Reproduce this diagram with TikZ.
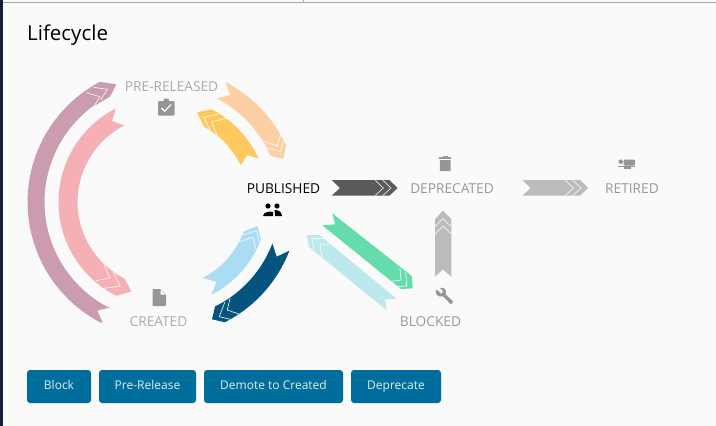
\documentclass[tikz,border=0pt]{standalone}
\usepackage{fontspec}
\setmainfont{Open Sans}
\definecolor{pagebg}{HTML}{FAFAFA}
\definecolor{navy}{HTML}{16203A}
\definecolor{mauve}{HTML}{CB9BB0}
\definecolor{pinkr}{HTML}{F4B0B5}
\definecolor{peach}{HTML}{FCCFA5}
\definecolor{amber}{HTML}{FFC85C}
\definecolor{skyb}{HTML}{AADDF3}
\definecolor{deepb}{HTML}{04547F}
\definecolor{mint}{HTML}{66DBAC}
\definecolor{paleteal}{HTML}{BCEAEC}
\definecolor{darkg}{HTML}{5A5A5A}
\definecolor{lightg}{HTML}{BBBBBB}
\definecolor{btn}{HTML}{006E9C}
\definecolor{iconc}{HTML}{969696}
\tikzset{
  x=1pt,y=-1pt,
  declare function={ax(\r,\t)=163.5+\r*cos(\t);ay(\r,\t)=202+\r*sin(\t);},
  smp/.style={samples=40},
  rib/.style={fill=#1,draw=none},
  chev/.style={draw=white!85!#1,line width=0.7pt,line join=miter},
  lab/.style={font=\fontsize{13.7}{16}\selectfont,text=#1,inner sep=0pt,anchor=base},
  act/.style={fill=btn,rounded corners=3pt,draw=none,minimum height=33pt,inner sep=0pt,text=white!88!btn,font=\fontsize{12}{14}\selectfont,text height=9pt,text depth=2.5pt},
  icon/.style={fill=iconc,draw=none}
}
\begin{document}
\begin{tikzpicture}
\useasboundingbox (0,0) rectangle (716,426);
\fill[pagebg] (0,0) rectangle (716,426);
\fill[black!35] (2.7,2) rectangle (716,3);
\fill[black!35] (303,0) rectangle (304,2);
\fill[navy] (0,0) rectangle (2.7,426);

\node[anchor=base west,inner sep=0pt,font=\fontsize{20.5}{24}\selectfont,text=black] (title) at (27,40) {Lifecycle};

% mauve: created -> pre-released (outer left)
\fill[rib=mauve] (102.7,322.7) -- (97.3,310.7) -- (110.3,307.3)
  -- plot[domain=117:234,smp] ({ax(119,\x)},{ay(119,\x)}) -- (94,106) -- (110,96.7) -- (116.3,84.3) -- (101,82)
  -- plot[domain=242:117.5,smp] ({ax(136,\x)},{ay(136,\x)}) -- cycle;
\draw[chev=mauve] (86,92.7) -- (100,96.7) -- (94,106);
\draw[chev=mauve] (93.3,87.3) -- (107.3,89.3) -- (100.7,100);

% pink: pre-released -> created (inner left)
\fill[rib=pinkr] (115.7,108.7) -- (112,121) -- (124.3,125.7)
  -- plot[domain=243:117,smp] ({ax(86,\x)},{ay(86,\x)}) -- (131.3,291.3) -- (116.7,295.7)
  -- plot[domain=116.5:243,smp] ({ax(105,\x)},{ay(105,\x)}) -- cycle;
\draw[chev=pinkr] (96,280.7) -- (110,278) -- (104,265);
\draw[chev=pinkr] (102,288.7) -- (120,286) -- (113.3,272);

% peach: pre-released -> published (outer)
\fill[rib=peach] (226,82.7) -- (230,95) -- (217.3,98.3)
  -- plot[domain=-62.5:-23.5,smp] ({ax(116.5,\x)},{ay(116.5,\x)}) -- (283.3,159) -- (286,146)
  -- plot[domain=-24.5:-62.3,smp] ({ax(135,\x)},{ay(135,\x)}) -- cycle;
\draw[chev=peach] (262.7,141) -- (277.3,146) -- (280.7,135);
\draw[chev=peach] (265.3,147.3) -- (280,151.7) -- (283.7,140.7);

% amber: published -> pre-released (inner)
\fill[rib=amber] (257.7,158.3) -- (247.3,155) -- (240.7,165)
  -- plot[domain=-25.5:-62,smp] ({ax(85.5,\x)},{ay(85.5,\x)}) -- (197.3,112.3) -- (211.7,109.3)
  -- plot[domain=-62.5:-25,smp] ({ax(104.5,\x)},{ay(104.5,\x)}) -- cycle;
\draw[chev=amber] (219.3,114) -- (204,117.3) -- (210,130);
\draw[chev=amber] (226.7,118.3) -- (211.7,121.7) -- (217.3,136);

% sky: created -> published (inner)
\fill[rib=skyb] (203.3,278.3) -- (216.7,281.7) -- (211.3,295)
  -- plot[domain=62.8:21,smp] ({ax(104.5,\x)},{ay(104.5,\x)}) -- (257.3,226) -- (243.3,231.7)
  -- plot[domain=20.5:62.5,smp] ({ax(85.5,\x)},{ay(85.5,\x)}) -- cycle;
\draw[chev=skyb] (238.7,242) -- (253,237) -- (256,250);
\draw[chev=skyb] (243.3,235) -- (256.5,230.7) -- (259.5,243);

% deep blue: published -> created (outer)
\fill[rib=deepb] (272.3,243.3) -- (276.7,256.7) -- (289.3,250.7)
  -- plot[domain=21:63,smp] ({ax(135,\x)},{ay(135,\x)}) -- (212,319.3) -- (215,306.7)
  -- plot[domain=63.8:21,smp] ({ax(116.5,\x)},{ay(116.5,\x)}) -- cycle;
\draw[chev=deepb] (230,298.3) -- (227.3,310) -- (241.7,315);
\draw[chev=deepb] (225,301.7) -- (219.3,316.7) -- (233.3,320);

% straight arrows
\fill[rib=darkg] (331.7,180) -- (389.3,180) -- (397.7,188) -- (389.3,195.7) -- (331.7,195.7) -- (340,188) -- cycle;
\draw[chev=darkg] (375,180) -- (383.3,188) -- (375,195.7);
\draw[chev=darkg] (382.7,180) -- (391,188) -- (382.7,195.7);

\fill[rib=lightg] (522.3,180) -- (580,180) -- (588,188) -- (580,195.7) -- (522.3,195.7) -- (530.7,188) -- cycle;
\draw[chev=lightg] (565,180) -- (573.3,188) -- (565,195.7);
\draw[chev=lightg] (572.7,180) -- (581,188) -- (572.7,195.7);

\fill[rib=lightg] (443,210.7) -- (451.3,219.3) -- (451.3,276.7) -- (443,269.3) -- (435,276.7) -- (435,219.3) -- cycle;
\draw[chev=lightg] (435,226.7) -- (443,218.7) -- (451.3,226.7);
\draw[chev=lightg] (435,234) -- (443,226) -- (451.3,234);

\fill[rib=mint] (332.3,213.3) -- (411.7,276) -- (412.7,288.3) -- (401,289) -- (322.3,225.3) -- (335,224.3) -- cycle;
\draw[chev=mint] (400,268.3) -- (401,280) -- (390,281.7);
\draw[chev=mint] (405.7,272.3) -- (406.7,286) -- (395,286.7);

\fill[rib=paleteal] (306.7,235) -- (319.3,235) -- (396.7,298.7) -- (385,299.3) -- (386.7,310.3) -- (309,247) -- cycle;
\draw[chev=paleteal] (325,238.5) -- (312,238.5) -- (314,251);
\draw[chev=paleteal] (332.7,244) -- (320,244) -- (322,258);

% state labels
\node[lab=black] (published) at (283.5,193) {PUBLISHED};
\node[lab=black!33] (prereleased) at (171.5,91) {PRE-RELEASED};
\node[lab=black!33] (created) at (158.5,326) {CREATED};
\node[lab=black!40] (deprecated) at (452,193) {DEPRECATED};
\node[lab=black!40] (retired) at (632,193) {RETIRED};
\node[lab=black!40] (blocked) at (430.5,326) {BLOCKED};

% icons
% clipboard
\fill[icon,rounded corners=1pt] (158,101) rectangle (174.5,115.5);
\fill[icon] (163.5,101) -- (164,98.5) -- (168.5,98.5) -- (169,101) -- cycle;
\draw[white,line width=1.2pt] (161.5,108) -- (164.7,111.3) -- (171,104.5);
% document
\fill[icon,rounded corners=0.8pt] (152.5,289) -- (160.5,289) -- (166,294.5) -- (166,306) -- (152.5,306) -- cycle;
\fill[white] (160.5,289.7) -- (160.5,294.5) -- (165.3,294.5) -- cycle;
% people
\fill[black] (268,206) circle (2.6);
\fill[black] (277,206) circle (2.6);
\fill[black] (263,216.2) .. controls (263,211.5) and (272,210.5) .. (273.2,212.5) -- (273.2,216.2) -- cycle;
\fill[black] (274.6,210.2) .. controls (278,209.5) and (282,212) .. (282,216.2) -- (275.2,216.2) -- cycle;
% trash
\fill[icon,rounded corners=0.7pt] (439.8,160) rectangle (450.5,171);
\fill[icon] (439,157.2) rectangle (451.2,158.6);
\fill[icon] (442.5,155.5) rectangle (448,157.5);
% wrench
\draw[iconc,line width=3.4pt] (442,293) -- (452,303);
\fill[iconc] (436,290) .. controls (435,293) and (437.5,297.5) .. (442,296.5) -- (446,293) .. controls (446.5,289) and (443.5,287) .. (440,288) -- (443.5,291.5) -- (441,294) -- (438,290.5) -- cycle;
% bed / retired
\fill[icon] (620.7,161.7) circle (2.3);
\fill[icon,rounded corners=1pt] (623.5,159.5) rectangle (635,165.6);
\fill[icon] (618.3,166) rectangle (635,167.3);
\fill[icon] (623.5,167.3) rectangle (630.7,168.5);

% buttons
\node[act,minimum width=64pt] (bBlock) at (59,386.5) {Block};
\node[act,minimum width=97pt] (bPre) at (147.5,386.5) {Pre-Release};
\node[act,minimum width=139pt] (bDemote) at (273.5,386.5) {Demote to Created};
\node[act,minimum width=90pt] (bDep) at (396,386.5) {Deprecate};
\end{tikzpicture}
\end{document}
